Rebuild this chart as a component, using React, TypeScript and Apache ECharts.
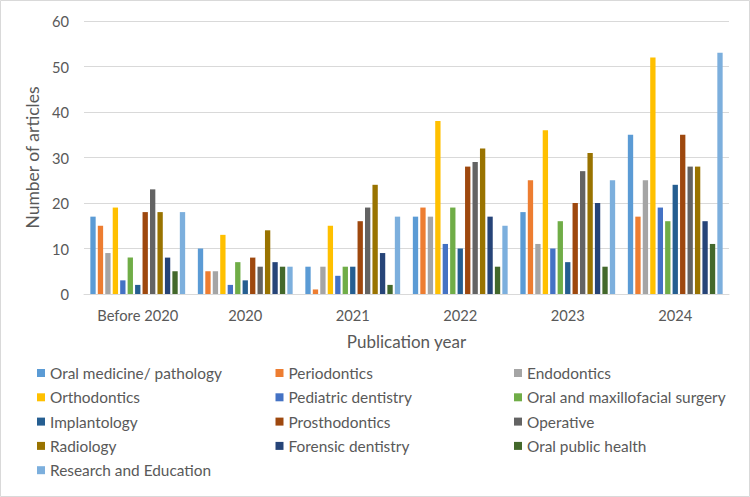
import React, { useEffect, useRef } from "react";
import * as echarts from "echarts";

const categories = ["Before 2020", "2020", "2021", "2022", "2023", "2024"];

const seriesNames = [
  "Oral medicine/ pathology",
  "Periodontics",
  "Endodontics",
  "Orthodontics",
  "Pediatric dentistry",
  "Oral and maxillofacial surgery",
  "Implantology",
  "Prosthodontics",
  "Operative",
  "Radiology",
  "Forensic dentistry",
  "Oral public health",
  "Research and Education",
];

const oralMedicine = [17, 10, 6, 17, 18, 35];
const periodontics = [15, 5, 1, 19, 25, 17];
const endodontics = [9, 5, 6, 17, 11, 25];
const orthodontics = [19, 13, 15, 38, 36, 52];
const pediatric = [3, 2, 4, 11, 10, 19];
const oralMaxillofacial = [8, 7, 6, 19, 16, 16];
const implantology = [2, 3, 6, 10, 7, 24];
const prosthodontics = [18, 8, 16, 28, 20, 35];
const operative = [23, 6, 19, 29, 27, 28];
const radiology = [18, 14, 24, 32, 31, 28];
const forensic = [8, 7, 9, 17, 20, 16];
const publicHealth = [5, 6, 2, 6, 6, 11];
const research = [18, 6, 17, 15, 25, 53];

const seriesValues = [
  oralMedicine,
  periodontics,
  endodontics,
  orthodontics,
  pediatric,
  oralMaxillofacial,
  implantology,
  prosthodontics,
  operative,
  radiology,
  forensic,
  publicHealth,
  research,
];

const colors = [
  "#5B9BD5",
  "#ED7D31",
  "#A5A5A5",
  "#FFC000",
  "#4472C4",
  "#70AD47",
  "#255E91",
  "#9E480E",
  "#636363",
  "#997300",
  "#264478",
  "#43682B",
  "#7CAFDD",
];

const yTicks = [0, 10, 20, 30, 40, 50, 60];

const FONT = "Lato, 'Noto Sans', sans-serif";

export default function App() {
  const ref = useRef<HTMLDivElement>(null);

  useEffect(() => {
    document.body.style.margin = "0";
    if (!ref.current) return;
    const chart = echarts.init(ref.current, undefined, { renderer: "svg" });

    const legendCol = (idx: number[], left: number) => ({
      orient: "vertical" as const,
      left,
      top: 365.5,
      padding: 0,
      itemWidth: 8,
      itemHeight: 8,
      itemGap: 9.3,
      icon: "rect",
      textStyle: {
        fontFamily: FONT,
        fontSize: 15.4,
        color: "#595959",
        lineHeight: 15,
      },
      data: idx.map((i) => seriesNames[i]),
    });

    chart.setOption({
      animation: false,
      color: colors,
      textStyle: { fontFamily: FONT },
      graphic: [
        {
          type: "rect",
          shape: { x: 0.5, y: 0.5, width: 749, height: 496 },
          style: { fill: "none", stroke: "#d9d9d9", lineWidth: 1 },
          silent: true,
        },
      ],
      grid: { left: 84, right: 21, top: 21, bottom: 203 },
      legend: [
        legendCol([0, 3, 6, 9, 12], 37),
        legendCol([1, 4, 7, 10], 275.5),
        legendCol([2, 5, 8, 11], 514),
      ],
      xAxis: {
        type: "category",
        data: categories,
        name: "Publication year",
        nameLocation: "middle",
        nameGap: 39,
        nameTextStyle: { fontFamily: FONT, fontSize: 17, color: "#595959" },
        axisLine: { lineStyle: { color: "#d9d9d9", width: 1 } },
        axisTick: { show: false },
        axisLabel: {
          fontFamily: FONT,
          fontSize: 14.7,
          color: "#595959",
          margin: 13,
        },
      },
      yAxis: {
        type: "value",
        min: yTicks[0],
        max: yTicks[yTicks.length - 1],
        interval: 10,
        name: "Number of articles",
        nameLocation: "middle",
        nameGap: 34,
        nameTextStyle: { fontFamily: FONT, fontSize: 17.5, color: "#595959" },
        axisLine: { show: false },
        axisTick: { show: false },
        splitLine: { lineStyle: { color: "#d9d9d9", width: 1 } },
        axisLabel: {
          fontFamily: FONT,
          fontSize: 14.7,
          color: "#595959",
          margin: 15,
        },
      },
      series: seriesNames.map((name, i) => ({
        name,
        type: "bar",
        data: seriesValues[i],
        barCategoryGap: "11.8%",
        barGap: "40%",
        itemStyle: { color: colors[i] },
      })),
    });

    return () => chart.dispose();
  }, []);

  return <div ref={ref} style={{ width: 750, height: 497 }} />;
}
